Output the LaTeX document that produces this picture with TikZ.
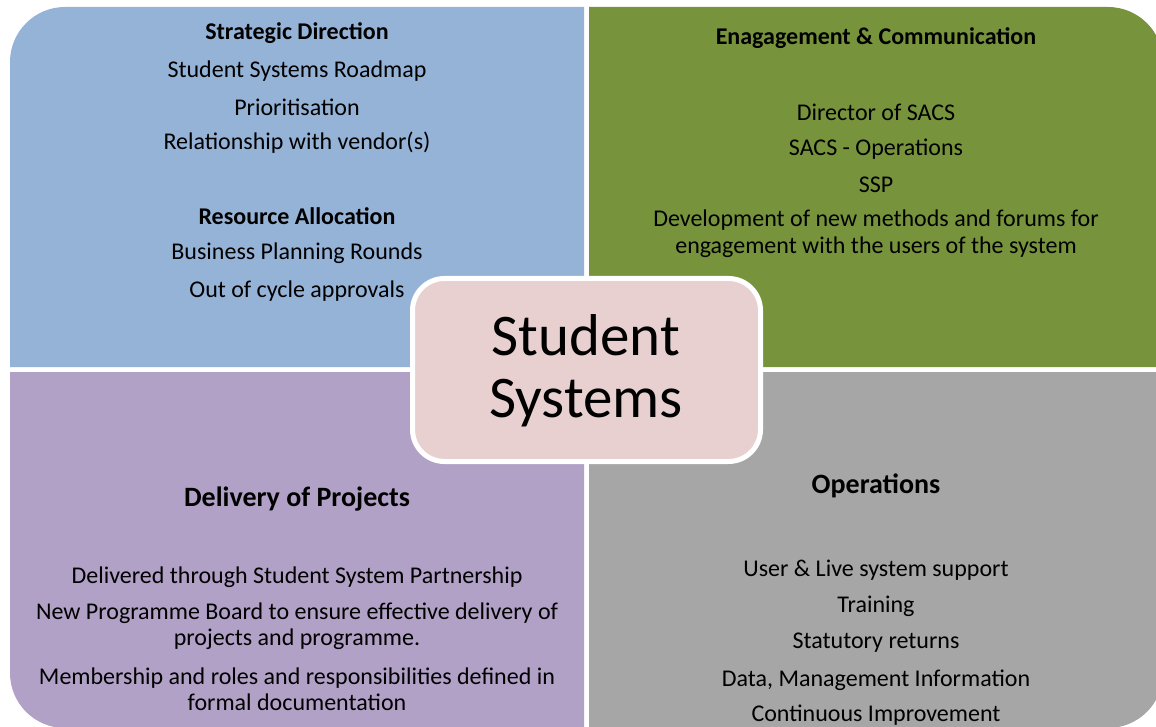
\documentclass[tikz,border=0pt]{standalone}
\usepackage{fontspec}
\setmainfont{Carlito}
\begin{document}
\begin{tikzpicture}[x=1pt,y=-1pt,
  body/.style={font=\fontsize{24}{26}\selectfont,align=center,inner sep=0pt,anchor=center},
  head/.style={font=\fontsize{24}{26}\selectfont\bfseries,align=center,inner sep=0pt,anchor=center},
  bighead/.style={font=\fontsize{28}{30}\selectfont\bfseries,align=center,inner sep=0pt,anchor=center},
  hub/.style={font=\fontsize{59}{63}\selectfont,align=center,inner sep=0pt,anchor=center}]
\definecolor{qblue}{HTML}{95B3D7}
\definecolor{qgreen}{HTML}{77933C}
\definecolor{qpurple}{HTML}{B2A1C7}
\definecolor{qgray}{HTML}{A6A6A6}
\definecolor{hubpink}{HTML}{E8D0D1}
\useasboundingbox (0,0) rectangle (1156,727);
\fill[white] (0,0) rectangle (1156,727);
\begin{scope}
\clip (0,0) rectangle (1156,727);
% four quadrants, each rounded at its outer corner (y grows downwards)
\fill[qblue]   (584,367) -- (10,367) -- (10,62) arc[start angle=180,end angle=270,radius=55] -- (584,7) -- cycle;
\fill[qgreen]  (589,367) -- (589,7) -- (1108,7) arc[start angle=270,end angle=360,radius=55] -- (1163,367) -- cycle;
\fill[qpurple] (584,372) -- (584,728) -- (65,728) arc[start angle=90,end angle=180,radius=55] -- (10,372) -- cycle;
\fill[qgray]   (589,372) -- (1163,372) -- (1163,673) arc[start angle=0,end angle=90,radius=55] -- (589,728) -- cycle;
\end{scope}
% central hub
\draw[white,line width=5pt,fill=hubpink,rounded corners=32pt] (412.5,278.5) rectangle (760.5,461.5);
\begin{scope}[shift={(0,2)}]
\node[hub] (hub) at (586,369) {Student\\[-1pt]Systems};

% top left
\node[head] (sd)  at (297,31)  {Strategic Direction};
\node[body] (sd1) at (297,69)  {Student Systems Roadmap};
\node[body] (sd2) at (297,105) {Prioritisation};
\node[body] (sd3) at (297,141) {Relationship with vendor(s)};
\node[head] (ra)  at (297,214) {Resource Allocation};
\node[body] (ra1) at (297,251) {Business Planning Rounds};
\node[body] (ra2) at (297,289) {Out of cycle approvals};

% top right
\node[head] (ec)  at (876,36)  {Enagagement \& Communication};
\node[body] (ec1) at (876,110) {Director of SACS};
\node[body] (ec2) at (876,147) {SACS - Operations};
\node[body] (ec3) at (876,183) {SSP};
\node[body,font=\fontsize{24}{27}\selectfont] (ec4) at (876,232) {Development of new methods and forums for\\engagement with the users of the system};

% bottom left
\node[bighead] (dp)  at (297,497) {Delivery of Projects};
\node[body] (dp1) at (297,575) {Delivered through Student System Partnership};
\node[body] (dp2) at (297,624) {New Programme Board to ensure effective delivery of\\projects and programme.};
\node[body] (dp3) at (297,687) {Membership and roles and responsibilities defined in\\formal documentation};

% bottom right
\node[bighead] (op)  at (876,484) {Operations};
\node[body] (op1) at (876,568) {User \& Live system support};
\node[body] (op2) at (876,604) {Training};
\node[body] (op3) at (876,641) {Statutory returns};
\node[body] (op4) at (876,678) {Data, Management Information};
\node[body] (op5) at (876,713) {Continuous Improvement};
\end{scope}
\end{tikzpicture}
\end{document}
